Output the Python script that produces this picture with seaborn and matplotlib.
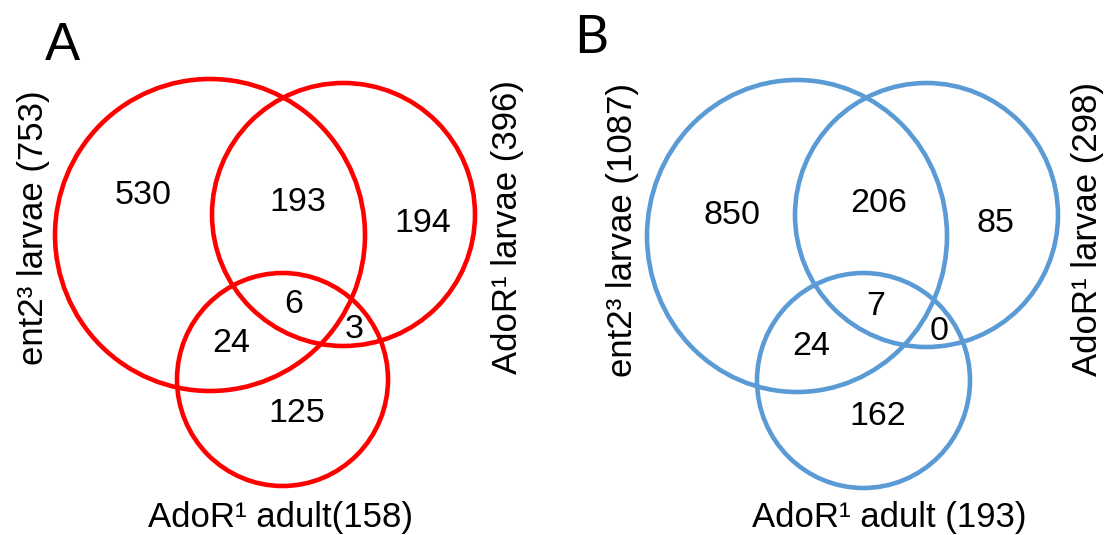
import matplotlib
matplotlib.use("Agg")
import matplotlib.pyplot as plt
from matplotlib.patches import Ellipse
import seaborn as sns

# ---------------- data ----------------
region_keys = ["only1", "1&2", "only2", "1&3", "1&2&3", "2&3", "only3"]
counts_A = [530, 193, 194, 24, 6, 3, 125]
counts_B = [850, 206, 85, 24, 7, 0, 162]
totals_A = [753, 396, 158]
totals_B = [1087, 298, 193]
set_names = ["ent2\u00b3 larvae", "AdoR\u00b9 larvae", "AdoR\u00b9 adult"]
panel_letters = ["A", "B"]

# ---------------- layout (pixel coords, y down) ----------------
sns.set_theme(style="white")
plt.rcParams["font.family"] = ["Liberation Sans", "DejaVu Sans"]

W, H = 1105, 535
fig = plt.figure(figsize=(W / 100, H / 100), dpi=100)
ax = fig.add_axes([0, 0, 1, 1])
ax.set_xlim(0, W)
ax.set_ylim(H, 0)
ax.axis("off")

colors = {"A": "#ff0000", "B": "#5b9bd5"}

ellipses = {
    "A": [(210, 235, 310, 312), (343.5, 214.5, 263, 263), (282.5, 379.5, 211, 213)],
    "B": [(797, 236, 300, 312), (926.5, 215, 263, 264), (863.5, 380.5, 213, 215)],
}
num_pos = {
    "A": [(143, 204), (298, 211), (423, 232), (231, 352), (294, 313), (354, 338), (297, 422)],
    "B": [(732, 224), (879, 212), (995, 232), (811, 355), (876, 315), (939, 340), (878, 425)],
}
# (x, y, rotation) ; rotated labels anchored at baseline
label_pos = {
    "A": [(43, 228, 90), (517, 227, 90), (281, 527, 0)],
    "B": [(632, 230, 90), (1097, 229, 90), (889, 527, 0)],
}
letter_pos = {"A": (62, 60, "Liberation Sans"), "B": (591, 53, "Lato")}

panels = {"A": (counts_A, totals_A), "B": (counts_B, totals_B)}
label_fmt = {
    "A": ["{} ({})", "{} ({})", "{}({})"],
    "B": ["{} ({})", "{} ({})", "{} ({})"],
}

for p in panel_letters:
    counts, totals = panels[p]
    col = colors[p]
    for (cx, cy, w, h) in ellipses[p]:
        ax.add_patch(Ellipse((cx, cy), w, h, fill=False, edgecolor=col, lw=3.3))
    for val, (x, y) in zip(counts, num_pos[p]):
        ax.text(x, y, str(val), ha="center", va="baseline", fontsize=24.5, color="black")
    for name, tot, fmt, (x, y, rot) in zip(set_names, totals, label_fmt[p], label_pos[p]):
        ax.text(x, y, fmt.format(name, tot), ha="center", va="baseline", rotation=rot,
                rotation_mode="anchor", fontsize=25, color="black")
    lx, ly, fam = letter_pos[p]
    ax.text(lx, ly, p, ha="center", va="baseline", fontsize=38, color="black",
            family=[fam, "DejaVu Sans"])

fig.savefig("out.png", dpi=100, facecolor="white")
